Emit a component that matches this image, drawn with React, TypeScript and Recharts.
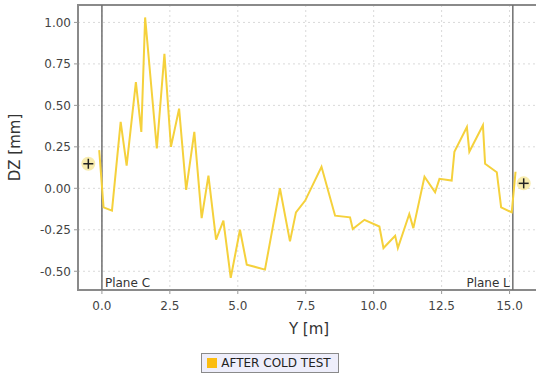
import { ComposedChart, Line, Scatter, XAxis, YAxis, CartesianGrid, ReferenceLine, ReferenceArea, Legend } from 'recharts'

// Y position [m] and DZ [mm]
const posY = [
  -0.1, 0.06, 0.37, 0.69, 0.91, 1.25, 1.45, 1.59, 2.02, 2.3, 2.54, 2.84, 3.1, 3.4, 3.67, 3.92, 4.2,
  4.47, 4.74, 5.08, 5.33, 6.0, 6.55, 6.92, 7.14, 7.48, 8.08, 8.58, 9.13, 9.23, 9.66, 10.21, 10.36,
  10.79, 10.89, 11.31, 11.46, 11.87, 12.26, 12.42, 12.87, 12.97, 13.43, 13.52, 14.02, 14.1, 14.53,
  14.69, 15.08, 15.22,
]
const dz = [
  0.23, -0.115, -0.135, 0.4, 0.137, 0.64, 0.34, 1.03, 0.24, 0.81, 0.25, 0.48, -0.01, 0.34, -0.18,
  0.077, -0.31, -0.195, -0.54, -0.25, -0.46, -0.49, 0.0, -0.32, -0.145, -0.074, 0.13, -0.165,
  -0.175, -0.245, -0.19, -0.23, -0.36, -0.286, -0.36, -0.155, -0.24, 0.07, -0.024, 0.057, 0.047,
  0.22, 0.37, 0.22, 0.38, 0.148, 0.097, -0.115, -0.145, 0.1,
]

// reference marks (+) at both ends
const refY = [-0.5, 15.52]
const refDz = [0.148, 0.03]

const planeC = 0
const planeL = 15.12

const xTicks = [0, 2.5, 5, 7.5, 10, 12.5, 15]
const yTicks = [-0.5, -0.25, 0, 0.25, 0.5, 0.75, 1.0]
const xDomain = [-0.88, 16.12]
const yDomain = [-0.613, 1.105]

const lineData = posY.map((x, i) => ({ x, y: dz[i] }))
const refData = refY.map((x, i) => ({ x, y: refDz[i] }))

const font = '"DejaVu Sans", sans-serif'

const Cross = (props: any) => {
  const { cx, cy } = props
  return (
    <g>
      <circle cx={cx} cy={cy} r={7} fill="#f2dc6a" opacity={0.55} />
      <line x1={cx - 5} y1={cy} x2={cx + 5} y2={cy} stroke="#222" strokeWidth={1.5} />
      <line x1={cx} y1={cy - 5} x2={cx} y2={cy + 5} stroke="#222" strokeWidth={1.5} />
    </g>
  )
}

const LegendBox = () => (
  <div style={{ textAlign: 'center', lineHeight: 0 }}>
    <div
      style={{
        display: 'inline-flex',
        alignItems: 'center',
        height: 18,
        padding: '0 7px 0 5px',
        border: '1.5px solid #8a8a8a',
        background: '#eeeefb',
        fontFamily: font,
        fontSize: 12,
        color: '#222',
        lineHeight: '18px',
      }}
    >
      <span style={{ width: 10, height: 10, background: '#fbbd12', marginRight: 4, display: 'inline-block' }} />
      AFTER COLD TEST
    </div>
  </div>
)

export default function App() {
  return (
    <div style={{ position: 'absolute', left: 0, top: 0, width: 536, height: 376, overflow: 'hidden', background: '#fff' }}>
      <ComposedChart width={540} height={376} margin={{ top: 5, right: 0, bottom: 3, left: 0 }} style={{ fontFamily: font }}>
        <CartesianGrid stroke="#d9d9d9" strokeDasharray="2 3" />
        <XAxis
          dataKey="x"
          type="number"
          domain={xDomain}
          ticks={xTicks}
          allowDataOverflow
          tickFormatter={(v: number) => v.toFixed(1)}
          tick={{ fill: '#444', fontSize: 12 }}
          tickLine={{ stroke: '#999' }}
          tickSize={4}
          tickMargin={7}
          axisLine={false}
          height={63}
          label={{ value: 'Y [m]', position: 'insideBottom', offset: 19, fill: '#333', fontSize: 15 }}
        />
        <YAxis
          type="number"
          domain={yDomain}
          ticks={yTicks}
          allowDataOverflow
          tickFormatter={(v: number) => v.toFixed(2)}
          tick={{ fill: '#444', fontSize: 12 }}
          tickLine={{ stroke: '#999' }}
          tickSize={4}
          tickMargin={3}
          axisLine={false}
          width={78}
          label={{ value: 'DZ [mm]', angle: -90, position: 'insideLeft', offset: 15, fill: '#333', fontSize: 15, style: { textAnchor: 'middle' } }}
        />
        <ReferenceArea x1={xDomain[0]} x2={xDomain[1]} y1={yDomain[0]} y2={yDomain[1]} fill="none" stroke="#8a8a8a" strokeWidth={2} ifOverflow="visible" />
        <ReferenceLine x={planeC} stroke="#6f6f6f" strokeWidth={1.5} label={{ value: 'Plane C', position: 'insideBottomLeft', offset: 3, fill: '#333', fontSize: 12 }} />
        <ReferenceLine x={planeL} stroke="#6f6f6f" strokeWidth={1.5} label={{ value: 'Plane L', position: 'insideBottomRight', offset: 3, fill: '#333', fontSize: 12 }} />
        <Line data={lineData} dataKey="y" type="linear" stroke="#f5d13c" strokeWidth={2} dot={false} isAnimationActive={false} legendType="none" />
        <Scatter data={refData} dataKey="y" shape={Cross} isAnimationActive={false} legendType="none" />
        <Legend verticalAlign="bottom" content={LegendBox} />
      </ComposedChart>
    </div>
  )
}
